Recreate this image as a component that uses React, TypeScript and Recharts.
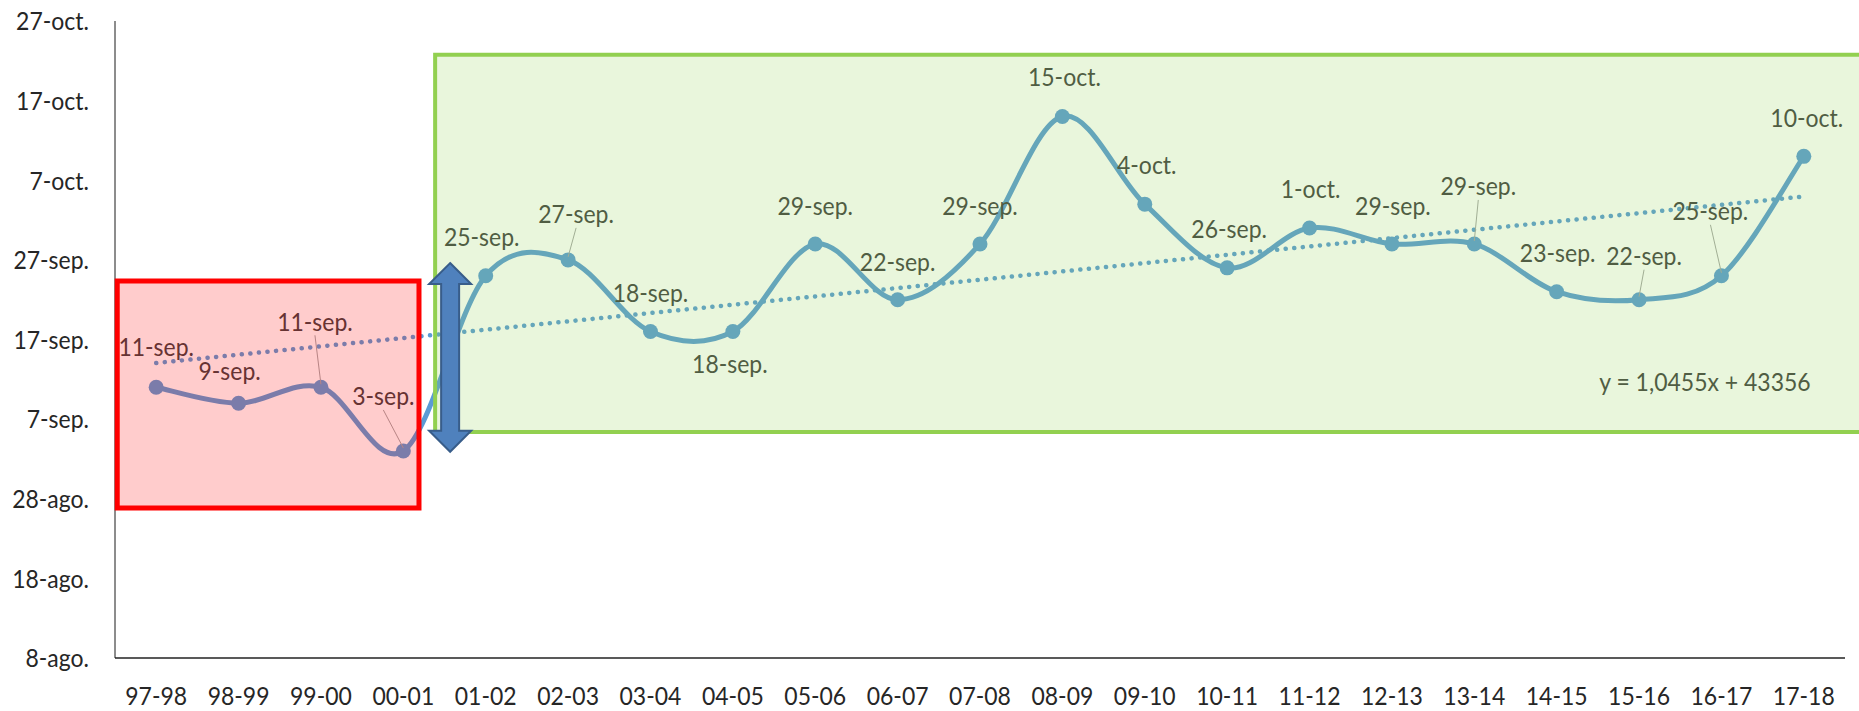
import React from "react";
import { LineChart, Line, XAxis, YAxis, ReferenceArea, ReferenceDot, LabelList } from "recharts";

// Campaign seasons and the date read for each one
const seasons = [
  "97-98", "98-99", "99-00", "00-01", "01-02", "02-03", "03-04", "04-05", "05-06", "06-07", "07-08",
  "08-09", "09-10", "10-11", "11-12", "12-13", "13-14", "14-15", "15-16", "16-17", "17-18",
];
const dates = [
  "11-sep.", "9-sep.", "11-sep.", "3-sep.", "25-sep.", "27-sep.", "18-sep.", "18-sep.", "29-sep.", "22-sep.", "29-sep.",
  "15-oct.", "4-oct.", "26-sep.", "1-oct.", "29-sep.", "29-sep.", "23-sep.", "22-sep.", "25-sep.", "10-oct.",
];
const yTickLabels = ["8-ago.", "18-ago.", "28-ago.", "7-sep.", "17-sep.", "27-sep.", "7-oct.", "17-oct.", "27-oct."];
// linear trend (y = 1,0455x + 43356) read at the first and last season, in days since 8-ago
const trendEnds = [37.05, 57.96];
const trendText = "y = 1,0455x + 43356";

// label placement relative to its point: dx, dy, leader line
const labelOffsets: [number, number, boolean][] = [
  [0, -41, false], [-9, -32, false], [-6, -66, true], [-20, -55, true], [-4, -39, false],
  [8, -46, true], [0, -39, false], [-3, 32, false], [0, -38, false], [0, -38, false],
  [0, -38, false], [2, -40, false], [2, -39, false], [2, -39, false], [1, -39, false],
  [1, -38, false], [4, -58, true], [1, -39, false], [5, -44, true], [-11, -65, true],
  [3, -39, false],
];

const monthBase: Record<string, number> = { ago: -8, sep: 23, oct: 53 };
const dayOf = (label: string) => {
  const [d, m] = label.replace(".", "").split("-");
  return monthBase[m] + Number(d);
};
const yTicks = yTickLabels.map(dayOf);

const last = seasons.length - 1;
const data = seasons.map((season, i) => ({
  idx: i,
  season,
  label: dates[i],
  day: dayOf(dates[i]),
  trend: i === 0 ? trendEnds[0] : i === last ? trendEnds[1] : null,
}));

const BLUE = "#5b9bd5";
const FONT = "Lato, 'Open Sans', sans-serif";
const TEXT = "#404040";
const AXIS_TEXT = "#262626";
const FS = 23;

// Excel-like smoothed line (Catmull-Rom through the points)
const excelSmooth = (context: any) => {
  let pts: number[][] = [];
  return {
    areaStart() {},
    areaEnd() {},
    lineStart() {
      pts = [];
    },
    point(x: number, y: number) {
      pts.push([+x, +y]);
    },
    lineEnd() {
      const n = pts.length;
      if (!n) return;
      context.moveTo(pts[0][0], pts[0][1]);
      for (let i = 0; i < n - 1; i++) {
        const p0 = pts[i > 0 ? i - 1 : i];
        const p1 = pts[i];
        const p2 = pts[i + 1];
        const p3 = pts[i + 2 < n ? i + 2 : i + 1];
        context.bezierCurveTo(
          p1[0] + (p2[0] - p0[0]) / 6,
          p1[1] + (p2[1] - p0[1]) / 6,
          p2[0] - (p3[0] - p1[0]) / 6,
          p2[1] - (p3[1] - p1[1]) / 6,
          p2[0],
          p2[1]
        );
      }
    },
  };
};

// the source text is a narrow font, so stretch a little vertically
const Tall = ({ x, y, anchor, fill, children }: any) => (
  <text
    transform={`translate(${x},${y}) scale(1,1.12)`}
    x={0}
    y={0}
    dy="0.36em"
    textAnchor={anchor}
    fill={fill}
    fontSize={FS}
    fontFamily={FONT}
  >
    {children}
  </text>
);

const XTick = ({ x, y, payload }: any) => (
  <Tall x={x} y={y + 30} anchor="middle" fill={AXIS_TEXT}>
    {seasons[payload.value]}
  </Tall>
);

const YTick = ({ x, y, payload }: any) => (
  <Tall x={x} y={y} anchor="end" fill={AXIS_TEXT}>
    {yTickLabels[yTicks.indexOf(payload.value)]}
  </Tall>
);

const PointLabel = (props: any) => {
  const { x, y, index, value } = props;
  if (x == null || y == null || index == null) return null;
  const [dx, dy, leader] = labelOffsets[index];
  const lx = x + dx;
  const ly = y + dy;
  return (
    <g>
      {leader && <line x1={lx} y1={ly + 14} x2={x} y2={y - 3} stroke="#a6a6a6" strokeWidth={1} />}
      <Tall x={lx} y={ly} anchor="middle" fill={TEXT}>
        {value}
      </Tall>
    </g>
  );
};

const TrendText = (props: any) => {
  const { viewBox } = props;
  if (!viewBox) return null;
  return (
    <Tall x={viewBox.x} y={viewBox.y} anchor="middle" fill={TEXT}>
      {trendText}
    </Tall>
  );
};

const DoubleArrow = (props: any) => {
  const { x, y, width, height } = props;
  const cx = x + width / 2;
  const head = 21;
  const half = 9;
  const d = [
    `M${cx},${y}`,
    `L${x + width},${y + head}`,
    `L${cx + half},${y + head}`,
    `L${cx + half},${y + height - head}`,
    `L${x + width},${y + height - head}`,
    `L${cx},${y + height}`,
    `L${x},${y + height - head}`,
    `L${cx - half},${y + height - head}`,
    `L${cx - half},${y + head}`,
    `L${x},${y + head}`,
    "Z",
  ].join(" ");
  return <path d={d} fill="#4f81bd" stroke="#385d8a" strokeWidth={2} />;
};

export default function App() {
  return (
    <div style={{ width: 1859, height: 711, fontFamily: FONT, background: "#fff" }}>
      <style>{"body{margin:0}"}</style>
      <LineChart width={1859} height={711} data={data} margin={{ top: 21, right: 14, left: 15, bottom: 3 }}>
        <XAxis
          dataKey="idx"
          type="number"
          domain={[-0.5, 20.5]}
          ticks={seasons.map((_, i) => i)}
          interval={0}
          tickLine={false}
          height={50}
          axisLine={{ stroke: "#595959", strokeWidth: 2 }}
          tick={<XTick />}
        />
        <YAxis
          type="number"
          domain={[0, 80]}
          ticks={yTicks}
          interval={0}
          tickLine={false}
          tickMargin={20}
          width={100}
          axisLine={{ stroke: "#1a1a1a", strokeWidth: 1 }}
          tick={<YTick />}
        />
        <Line
          dataKey="trend"
          type="linear"
          connectNulls
          stroke={BLUE}
          strokeWidth={4.5}
          strokeDasharray="0.1 8.5"
          strokeLinecap="round"
          dot={false}
          activeDot={false}
          isAnimationActive={false}
        />
        <Line
          dataKey="day"
          type={excelSmooth as any}
          stroke={BLUE}
          strokeWidth={5}
          dot={{ r: 7.5, fill: BLUE, stroke: BLUE, strokeWidth: 0 }}
          activeDot={false}
          isAnimationActive={false}
        >
          <LabelList dataKey="label" content={PointLabel} />
        </Line>
        <ReferenceDot
          x={18.8}
          y={34.7}
          r={0}
          fill="none"
          stroke="none"
          zIndex={2100}
          label={<TrendText />}
        />
        <ReferenceArea
          x1={-0.473}
          x2={3.19}
          y1={18.84}
          y2={47.36}
          fill="#ff0000"
          fillOpacity={0.2}
          stroke="#ff0000"
          strokeOpacity={1}
          strokeWidth={5}
          ifOverflow="visible"
          zIndex={2500}
        />
        <ReferenceArea
          x1={3.386}
          x2={21.5}
          y1={28.39}
          y2={75.75}
          fill="#92d050"
          fillOpacity={0.2}
          stroke="#92d050"
          strokeOpacity={1}
          strokeWidth={4}
          ifOverflow="visible"
          zIndex={2500}
        />
        <ReferenceArea
          x1={3.313}
          x2={3.823}
          y1={25.9}
          y2={49.6}
          ifOverflow="visible"
          zIndex={2600}
          shape={DoubleArrow}
        />
      </LineChart>
    </div>
  );
}
